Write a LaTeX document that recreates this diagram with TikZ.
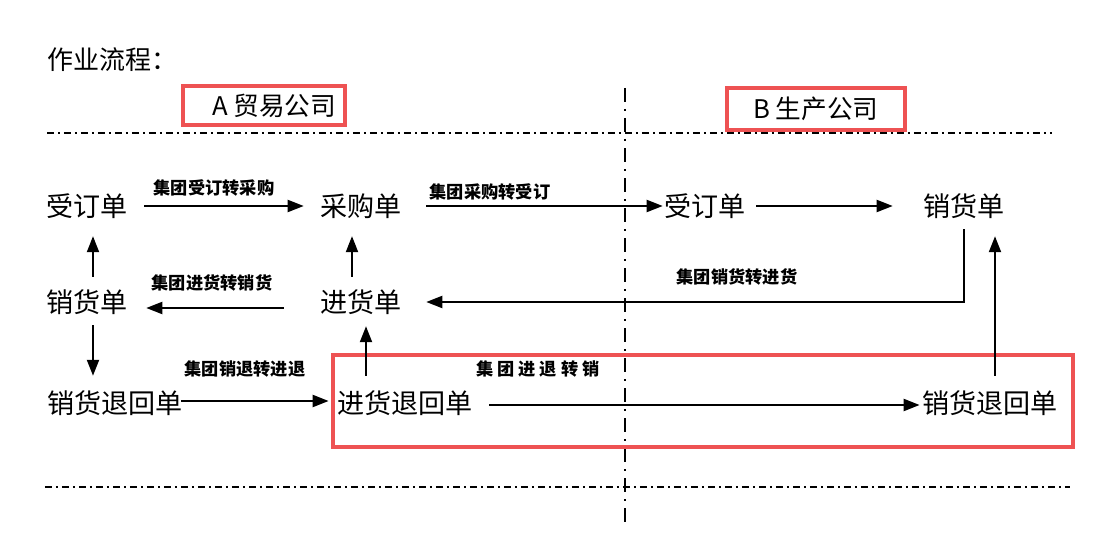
\documentclass[tikz,border=0pt]{standalone}
\usepackage{fontspec}
\setmainfont{Noto Sans CJK SC}
\usetikzlibrary{arrows.meta}
\definecolor{boxred}{RGB}{238,82,83}
\tikzset{
	doc/.style={font=\fontsize{7.7}{8}\selectfont, inner sep=0.1cm},
	lbl/.style={font=\fontsize{4.9}{5}\selectfont\bfseries, inner sep=0pt},
	arr/.style={line width=0.6pt, -{Triangle[length=0.16cm,width=0.12cm]}},
	redbox/.style={draw=boxred, line width=0.9pt, inner sep=0pt, font=\fontsize{7.3}{8}\selectfont},
	sep/.style={line width=0.6pt, dash pattern=on 0.07cm off 0.04cm on 0.02cm off 0.04cm},
	vsep/.style={line width=0.6pt, dash pattern=on 0.14cm off 0.07cm on 0.02cm off 0.07cm}
}
\begin{document}
\begin{tikzpicture}
	\useasboundingbox (0,0) rectangle (11.19,5.51);
	
	\node[anchor=west, inner sep=0pt, font=\fontsize{7.4}{8}\selectfont] (title) at (0.47,4.91) {作业流程：};
	\node[redbox, minimum width=1.62cm, minimum height=0.39cm] (compA) at (2.64,4.455) {\hspace{0.2cm}A 贸易公司};
	\node[redbox, minimum width=1.78cm, minimum height=0.42cm] (compB) at (8.16,4.42) {B 生产公司};
	
	\draw[sep] (0.47,4.18) -- (10.52,4.18);
	\draw[sep] (0.45,0.64) -- (10.70,0.64);
	\draw[vsep] (6.25,4.63) -- (6.25,0.29);
	
	\draw[draw=boxred, line width=0.9pt] (3.33,1.96) rectangle (10.73,1.04);
	
	\node[doc] (soA) at (0.87,3.45) {受订单};
	\node[doc] (cg) at (3.61,3.45) {采购单};
	\node[doc] (soB) at (7.05,3.45) {受订单};
	\node[doc] (xhB) at (9.64,3.45) {销货单};
	
	\node[doc] (xhA) at (0.87,2.49) {销货单};
	\node[doc] (jh) at (3.61,2.49) {进货单};
	
	\node[doc] (xtA) at (1.15,1.48) {销货退回单};
	\node[doc] (jt) at (4.05,1.48) {进货退回单};
	\node[doc] (xtB) at (9.90,1.48) {销货退回单};
	
	\node[lbl] (l1) at (2.14,3.63) {集团受订转采购};
	\node[lbl] (l2) at (4.90,3.59) {集团采购转受订};
	\node[lbl] (l3) at (7.37,2.74) {集团销货转进货};
	\node[lbl] (l4) at (2.12,2.68) {集团进货转销货};
	\node[lbl] (l5) at (2.45,1.82) {集团销退转进退};
	\node[lbl] (l6) at (5.38,1.82) {集\hspace{0.04cm}团\hspace{0.04cm}进\hspace{0.04cm}退\hspace{0.04cm}转\hspace{0.04cm}销};
	
	\draw[arr] ([xshift=0.06cm]soA.east) -- ([xshift=-0.06cm]cg.west);
	\draw[arr] ([xshift=0.14cm]cg.east) -- ([xshift=0.09cm]soB.west);
	\draw[arr, shorten >=0.2cm] (soB.east) -- (xhB.west);
	\draw[arr] (xhB.south) |- ([xshift=0.14cm]jh.east);
	\draw[arr] ([xshift=-0.26cm,yshift=-0.06cm]jh.west) -- ([xshift=0.08cm,yshift=-0.06cm]xhA.east);
	\draw[arr] ([xshift=0.06cm,yshift=0.02cm]xhA.north) -- ([xshift=0.06cm,yshift=-0.07cm]soA.south);
	\draw[arr] ([xshift=-0.09cm,yshift=0.02cm]jh.north) -- ([xshift=-0.09cm,yshift=-0.07cm]cg.south);
	\draw[arr] ([xshift=0.06cm]xhA.south) -- ([xshift=0.06cm,yshift=0.04cm]xhA.south |- xtA.north);
	\draw[arr] ([xshift=0.05cm,yshift=0.04cm]jh.south |- jt.north) -- ([xshift=0.05cm,yshift=-0.01cm]jh.south);
	\draw[arr] ([xshift=-0.12cm,yshift=0.02cm]xtA.east) -- ([xshift=0.02cm,yshift=0.02cm]jt.west);
	\draw[arr] ([xshift=0.06cm,yshift=-0.02cm]jt.east) -- ([xshift=0.08cm,yshift=-0.02cm]xtB.west);
	\draw[arr] ([xshift=0.05cm,yshift=0.04cm]xtB.north) -- ([xshift=0.05cm,yshift=-0.07cm]xtB.north |- xhB.south);
\end{tikzpicture}
\end{document}
